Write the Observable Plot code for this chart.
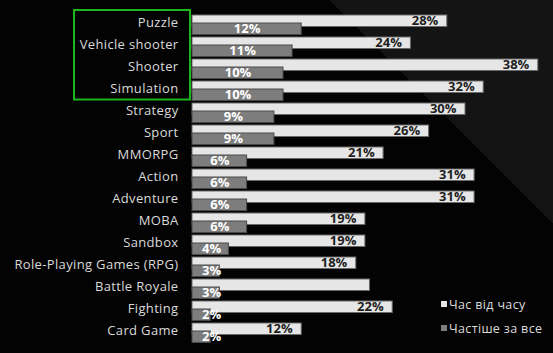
<!DOCTYPE html>
<html>
<head>
<meta charset="utf-8">
<script src="https://cdn.jsdelivr.net/npm/d3@7"></script>
<script src="https://cdn.jsdelivr.net/npm/@observablehq/plot@0.6"></script>
<style>
  html, body { margin: 0; padding: 0; }
  body {
    width: 553px; height: 353px; overflow: hidden;
    background: linear-gradient(45deg, #030303 75.3%, #141414 75.3%);
    font-family: "Open Sans", sans-serif;
  }
  #wrap { position: relative; width: 553px; height: 353px; }
  #wrap svg g[aria-label="y-axis tick label"] text { letter-spacing: 0.35px; }
  #legend { position: absolute; left: 441px; top: 295px; color: #dcdcdc; font-size: 12.5px; letter-spacing: 0.35px; }
  #legend .row { display: flex; align-items: center; height: 18px; margin-bottom: 6px; white-space: nowrap; }
  #legend .sw { width: 6px; height: 6px; margin-right: 2px; }
</style>
</head>
<body>
<div id="wrap"><div id="legend"></div></div>
<script>
const categories = ["Puzzle","Vehicle shooter","Shooter","Simulation","Strategy","Sport","MMORPG","Action","Adventure","MOBA","Sandbox","Role-Playing Games (RPG)","Battle Royale","Fighting","Card Game"];
const occasionally = [28,24,38,32,30,26,21,31,31,19,19,18,19.5,22,12];
const occasionallyLabels = ["28%","24%","38%","32%","30%","26%","21%","31%","31%","19%","19%","18%","","22%","12%"];
const mostOften = [12,11,10,10,9,9,6,6,6,6,4,3,3,2,2];
const mostOftenLabels = ["12%","11%","10%","10%","9%","9%","6%","6%","6%","6%","4%","3%","3%","2%","2%"];
const seriesNames = ["Час від часу", "Частіше за все"];
const seriesColors = ["#e6e6e6", "#7d7d7d"];
const highlighted = ["Puzzle", "Simulation"];

const light = categories.map((c, i) => ({cat: c, v: occasionally[i], label: occasionallyLabels[i]}));
const dark = categories.map((c, i) => ({cat: c, v: mostOften[i], label: mostOftenLabels[i], lx: Math.max(mostOften[i] / 2, 2.1)}));

const highlightBox = (index, scales) => {
  const {x, y} = scales;
  const bw = y(categories[1]) - y(categories[0]);
  const top = y(highlighted[0]) - 3;
  const bottom = y(highlighted[1]) + bw - 1.5;
  return d3.create("svg:rect")
    .attr("x", x(0) - 118).attr("y", top)
    .attr("width", 116).attr("height", bottom - top)
    .attr("fill", "none").attr("stroke", "#1fb51f").attr("stroke-width", 2)
    .node();
};

const chart = Plot.plot({
  width: 553,
  height: 353,
  marginLeft: 192,
  marginRight: 15.2,
  marginTop: 8.9,
  marginBottom: 6.6,
  style: {background: "transparent", fontFamily: "Open Sans, sans-serif"},
  x: {domain: [0, 38], axis: null},
  y: {domain: categories, padding: 0, axis: null},
  marks: [
    Plot.axisY({tickSize: 0, tickPadding: 14, fontSize: 13, fill: "#dadada", dy: -1.25, label: null}),
    Plot.barX(light, {x: "v", y: "cat", fill: seriesColors[0], stroke: "#6a6a6a", strokeWidth: 1, insetTop: 2, insetBottom: 8.5}),
    Plot.barX(dark, {x: "v", y: "cat", fill: seriesColors[1], stroke: "#4a4a4a", strokeWidth: 1, insetTop: 10, insetBottom: 0.5}),
    Plot.text(light, {x: "v", y: "cat", text: "label", textAnchor: "end", dx: -9, dy: -3.25, fill: "#1e1e1e", fontSize: 13, fontWeight: 700}),
    Plot.text(dark, {x: "lx", y: "cat", text: "label", textAnchor: "middle", dy: 4.75, fill: "#ffffff", fontSize: 13, fontWeight: 700}),
    highlightBox
  ]
});
document.getElementById("wrap").prepend(chart);

const legend = document.getElementById("legend");
seriesNames.forEach((n, i) => {
  const row = document.createElement("div");
  row.className = "row";
  const sw = document.createElement("span");
  sw.className = "sw";
  sw.style.background = seriesColors[i];
  const t = document.createElement("span");
  t.textContent = n;
  row.append(sw, t);
  legend.append(row);
});
</script>
</body>
</html>
